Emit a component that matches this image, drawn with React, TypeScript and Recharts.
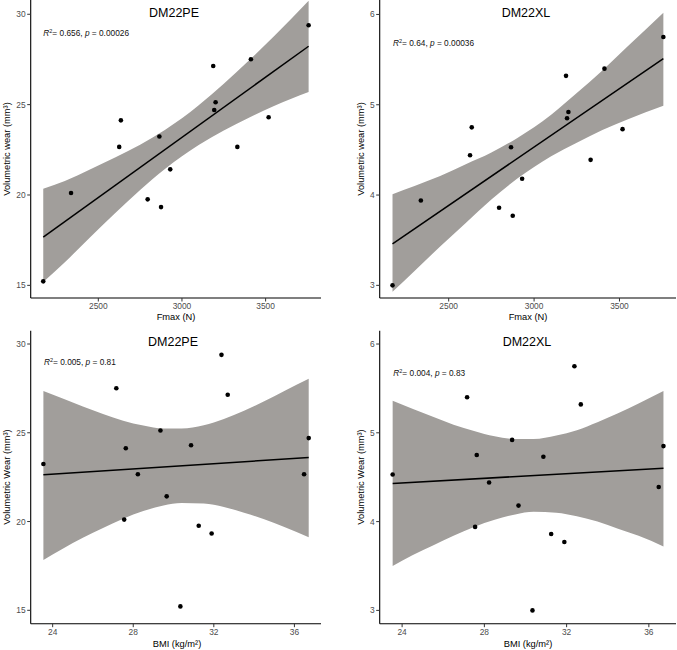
import { ComposedChart, Area, Line, Scatter, XAxis, YAxis } from 'recharts'

// ─── Data ──────────────────────────────────────────────────────────────────────

// one entry per specimen, same order in every array
const fmax = [2171, 2337, 2625, 2635, 2795, 2865, 2875, 2930, 3187, 3193, 3201, 3331, 3412, 3518, 3757]
const bmi = [30.34, 27.55, 28.23, 27.63, 31.25, 23.54, 31.89, 29.66, 32.69, 36.71, 29.35, 36.48, 27.16, 30.87, 32.38]
const wearPE = [15.22, 20.11, 22.66, 24.13, 19.76, 23.24, 19.33, 21.42, 27.14, 24.7, 25.13, 22.66, 27.51, 24.3, 29.39]
const wearXL = [3.0, 3.94, 4.44, 4.75, 3.86, 4.53, 3.77, 4.18, 5.32, 4.85, 4.92, 4.39, 5.4, 4.73, 5.75]

// regression lines (end points)
const fitFmaxX = [2171, 3757]
const fitFmaxPE = [17.67, 28.23]
const fitFmaxXL = [3.46, 5.51]
const fitBmiX = [23.54, 36.71]
const fitBmiPE = [22.63, 23.61]
const fitBmiXL = [4.43, 4.6]

// confidence bands
const bandFmaxX = [2171, 2300, 2450, 2600, 2750, 2900, 3000, 3100, 3250, 3400, 3550, 3757]
const bandFmaxPELow = [15.18, 16.28, 17.65, 18.99, 20.27, 21.45, 22.14, 22.76, 23.57, 24.28, 24.93, 25.7]
const bandFmaxPEHigh = [20.35, 20.78, 21.41, 22.07, 22.78, 23.61, 24.24, 24.96, 26.15, 27.44, 28.79, 30.75]
const bandFmaxXLLow = [2.93, 3.16, 3.43, 3.69, 3.95, 4.18, 4.31, 4.43, 4.58, 4.72, 4.84, 4.99]
const bandFmaxXLHigh = [4.01, 4.1, 4.21, 4.34, 4.47, 4.63, 4.75, 4.89, 5.13, 5.38, 5.65, 6.02]

const bandBmiX = [23.54, 24.5, 25.5, 26.5, 27.5, 28.5, 29.5, 30.4, 31.5, 32.5, 33.5, 34.5, 35.5, 36.71]
const bandBmiPELow = [17.84, 18.47, 19.08, 19.64, 20.16, 20.59, 20.9, 21.04, 21.01, 20.82, 20.5, 20.13, 19.69, 19.11]
const bandBmiPEHigh = [27.35, 26.93, 26.48, 26.06, 25.68, 25.41, 25.24, 25.24, 25.43, 25.78, 26.24, 26.77, 27.35, 28.04]
const bandBmiXLLow = [3.5, 3.62, 3.73, 3.84, 3.94, 4.02, 4.08, 4.11, 4.1, 4.06, 4.0, 3.92, 3.84, 3.72]
const bandBmiXLHigh = [5.36, 5.27, 5.18, 5.09, 5.02, 4.96, 4.93, 4.93, 4.97, 5.03, 5.12, 5.22, 5.33, 5.47]

const fmaxTicks = [2500, 3000, 3500]
const bmiTicks = [24, 28, 32, 36]
const peTicks = [15, 20, 25, 30]
const xlTicks = [3, 4, 5, 6]

// ─── Helpers ───────────────────────────────────────────────────────────────────

const FONT = '"Liberation Sans", Arial, Helvetica, sans-serif'
const BAND_FILL = '#a19e9b'

const toPoints = (xs: number[], ys: number[]) => xs.map((x, i) => ({ x, y: ys[i] }))
const toBand = (xs: number[], lo: number[], hi: number[]) =>
  xs.map((x, i) => ({ x, band: [lo[i], hi[i]] }))

const Dot = (props: any) => <circle cx={props.cx} cy={props.cy} r={2.3} fill="#000" />

// ─── Panel ─────────────────────────────────────────────────────────────────────

interface PanelProps {
  left: number
  top: number
  width: number
  margin: { top: number; right: number; bottom: number; left: number }
  xDomain: [number, number]
  yDomain: [number, number]
  xTicks: number[]
  yTicks: number[]
  points: { x: number; y: number }[]
  fit: { x: number; y: number }[]
  band: { x: number; band: number[] }[]
}

function Panel(p: PanelProps) {
  const tick = { fontSize: 8.4, fill: '#4d4d4d', fontFamily: FONT }
  return (
    <div style={{ position: 'absolute', left: p.left, top: p.top }}>
      <ComposedChart width={p.width} height={325} margin={p.margin}>
        <XAxis
          type="number"
          dataKey="x"
          domain={p.xDomain}
          ticks={p.xTicks}
          allowDataOverflow
          height={20}
          tickSize={3.5}
          tickMargin={2}
          tick={tick}
          axisLine={{ stroke: '#000', strokeWidth: 1.1 }}
          tickLine={{ stroke: '#333' }}
        />
        <YAxis
          type="number"
          dataKey="y"
          domain={p.yDomain}
          ticks={p.yTicks}
          allowDataOverflow
          width={30}
          tickSize={3.5}
          tickMargin={1.5}
          tick={tick}
          axisLine={{ stroke: '#000', strokeWidth: 1.1 }}
          tickLine={{ stroke: '#333' }}
        />
        <Area
          data={p.band}
          dataKey="band"
          type="monotone"
          stroke="none"
          fill={BAND_FILL}
          fillOpacity={1}
          isAnimationActive={false}
        />
        <Line
          data={p.fit}
          dataKey="y"
          type="linear"
          stroke="#000"
          strokeWidth={1.5}
          dot={false}
          isAnimationActive={false}
        />
        <Scatter data={p.points} fill="#000" shape={Dot} isAnimationActive={false} />
      </ComposedChart>
    </div>
  )
}

// ─── Annotation text ───────────────────────────────────────────────────────────

function Stat({ x, y, r2, pv }: { x: number; y: number; r2: string; pv: string }) {
  return (
    <text x={x} y={y} fontSize={8.3} fill="#111" fontFamily={FONT}>
      <tspan fontStyle="italic">R</tspan>
      <tspan dy={-3.2} fontSize={5.5}>2</tspan>
      <tspan dy={3.2}>= {r2}, </tspan>
      <tspan fontStyle="italic">p</tspan>
      <tspan> = {pv}</tspan>
    </text>
  )
}

// ─── App ───────────────────────────────────────────────────────────────────────

export default function App() {
  const leftMarginTop = { top: 0, right: 17, bottom: 7, left: 0.7 }
  const rightMarginTop = { top: 0, right: 1, bottom: 7, left: 12.7 }
  const leftMarginBottom = { top: 5.7, right: 17, bottom: 6.3, left: 0.7 }
  const rightMarginBottom = { top: 5.7, right: 1, bottom: 6.3, left: 12.7 }

  const titleStyle = { fontSize: 12.5, fill: '#000', fontFamily: FONT }
  const axisTitle = { fontSize: 9.3, fill: '#000', fontFamily: FONT }

  return (
    <div
      style={{
        position: 'absolute',
        left: 0,
        top: 0,
        width: 677,
        height: 650,
        background: '#fff',
        fontFamily: FONT,
      }}
    >
      <Panel
        left={0}
        top={0}
        width={338}
        margin={leftMarginTop}
        xDomain={[2096, 3831]}
        yDomain={[14.3, 30.79]}
        xTicks={fmaxTicks}
        yTicks={peTicks}
        points={toPoints(fmax, wearPE)}
        fit={toPoints(fitFmaxX, fitFmaxPE)}
        band={toBand(bandFmaxX, bandFmaxPELow, bandFmaxPEHigh)}
      />
      <Panel
        left={337}
        top={0}
        width={340}
        margin={rightMarginTop}
        xDomain={[2096, 3831]}
        yDomain={[2.86, 6.16]}
        xTicks={fmaxTicks}
        yTicks={xlTicks}
        points={toPoints(fmax, wearXL)}
        fit={toPoints(fitFmaxX, fitFmaxXL)}
        band={toBand(bandFmaxX, bandFmaxXLLow, bandFmaxXLHigh)}
      />
      <Panel
        left={0}
        top={325}
        width={338}
        margin={leftMarginBottom}
        xDomain={[22.91, 37.32]}
        yDomain={[14.245, 30.75]}
        xTicks={bmiTicks}
        yTicks={peTicks}
        points={toPoints(bmi, wearPE)}
        fit={toPoints(fitBmiX, fitBmiPE)}
        band={toBand(bandBmiX, bandBmiPELow, bandBmiPEHigh)}
      />
      <Panel
        left={337}
        top={325}
        width={340}
        margin={rightMarginBottom}
        xDomain={[22.91, 37.32]}
        yDomain={[2.85, 6.15]}
        xTicks={bmiTicks}
        yTicks={xlTicks}
        points={toPoints(bmi, wearXL)}
        fit={toPoints(fitBmiX, fitBmiXL)}
        band={toBand(bandBmiX, bandBmiXLLow, bandBmiXLHigh)}
      />

      <svg
        width={677}
        height={650}
        style={{ position: 'absolute', left: 0, top: 0, pointerEvents: 'none' }}
      >
        {/* panel titles */}
        <text x={174} y={17.3} textAnchor="middle" {...titleStyle}>DM22PE</text>
        <text x={526} y={17} textAnchor="middle" {...titleStyle}>DM22XL</text>
        <text x={173} y={346} textAnchor="middle" {...titleStyle}>DM22PE</text>
        <text x={527} y={346} textAnchor="middle" {...titleStyle}>DM22XL</text>

        {/* statistics */}
        <Stat x={43.3} y={35.7} r2="0.656" pv="0.00026" />
        <Stat x={393} y={46} r2="0.64" pv="0.00036" />
        <Stat x={44} y={365} r2="0.005" pv="0.81" />
        <Stat x={393.3} y={376} r2="0.004" pv="0.83" />

        {/* x axis titles */}
        <text x={176} y={320} textAnchor="middle" {...axisTitle}>Fmax (N)</text>
        <text x={528} y={320} textAnchor="middle" {...axisTitle}>Fmax (N)</text>
        <text x={177} y={647} textAnchor="middle" {...axisTitle}>BMI (kg/m²)</text>
        <text x={528} y={647} textAnchor="middle" {...axisTitle}>BMI (kg/m²)</text>

        {/* y axis titles */}
        <text x={7} y={149} transform="rotate(-90 7 149)" textAnchor="middle" dominantBaseline="central" {...axisTitle}>
          Volumetric wear (mm³)
        </text>
        <text x={361} y={149} transform="rotate(-90 361 149)" textAnchor="middle" dominantBaseline="central" {...axisTitle}>
          Volumetric wear (mm³)
        </text>
        <text x={7} y={477} transform="rotate(-90 7 477)" textAnchor="middle" dominantBaseline="central" {...axisTitle}>
          Volumetric Wear (mm³)
        </text>
        <text x={361} y={477} transform="rotate(-90 361 477)" textAnchor="middle" dominantBaseline="central" {...axisTitle}>
          Volumetric Wear (mm³)
        </text>
      </svg>
    </div>
  )
}
